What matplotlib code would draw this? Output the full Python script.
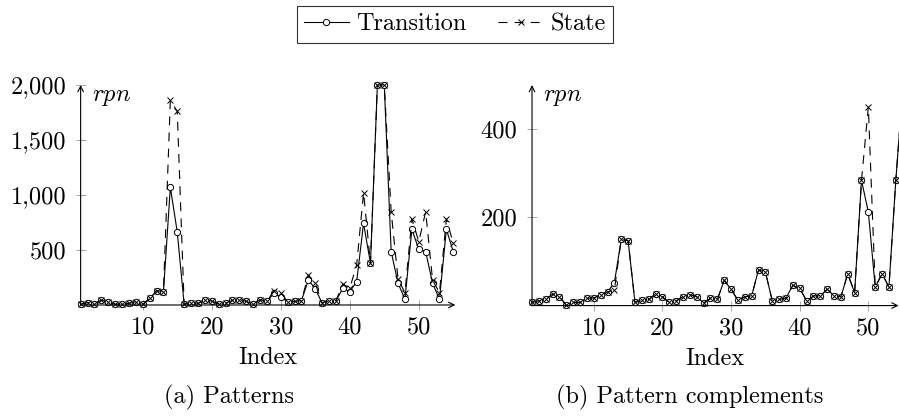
import matplotlib
matplotlib.use("Agg")
import matplotlib.pyplot as plt

# =============================================================================
# Data
# =============================================================================

INDEX = list(range(1, 56))

# (a) Patterns
PAT_TRANSITION = [6, 21, 9, 45, 27, 6, 9, 15, 30, 6,
                  60, 130, 121, 1070, 664, 6, 21, 15, 45, 36,
                  10, 17, 42, 48, 33, 9, 48, 33, 106, 70,
                  30, 33, 39, 227, 148, 17, 39, 39, 152, 121,
                  212, 742, 379, 2000, 2000, 485, 197, 52, 688, 506,
                  485, 197, 52, 688, 485]
PAT_STATE = [6, 21, 9, 45, 27, 6, 9, 15, 30, 6,
             60, 130, 121, 1860, 1760, 6, 21, 15, 45, 36,
             10, 17, 42, 48, 33, 9, 48, 33, 130, 112,
             30, 33, 39, 273, 197, 17, 39, 39, 191, 152,
             364, 1021, 379, 2000, 2000, 848, 233, 112, 782, 576,
             848, 227, 112, 782, 561]

# (b) Pattern complements
COMP_TRANSITION = [7, 11, 14, 26, 20, 1, 7, 7, 17, 17,
                   25, 31, 52, 150, 147, 7, 12, 14, 26, 20,
                   7, 11, 20, 25, 20, 6, 17, 14, 57, 37,
                   12, 20, 22, 81, 76, 11, 14, 17, 46, 39,
                   11, 22, 22, 37, 22, 20, 72, 29, 284, 212,
                   42, 72, 42, 284, 490]
COMP_STATE = [7, 11, 14, 26, 20, 1, 7, 7, 17, 17,
              25, 31, 36, 150, 147, 7, 12, 14, 26, 20,
              7, 11, 20, 25, 20, 6, 17, 14, 57, 37,
              12, 20, 22, 81, 76, 11, 14, 17, 46, 39,
              11, 22, 22, 37, 22, 20, 72, 29, 284, 450,
              42, 72, 42, 284, 490]

X_TICKS = [10, 20, 30, 40, 50]
PAT_Y_TICKS = [500, 1000, 1500, 2000]
PAT_Y_LABELS = ["500", "1,000", "1,500", "2,000"]
COMP_Y_TICKS = [200, 400]
COMP_Y_LABELS = ["200", "400"]

# =============================================================================
# Style
# =============================================================================

plt.rcParams["font.family"] = "cmr10"
plt.rcParams["mathtext.fontset"] = "cm"
plt.rcParams["axes.formatter.use_mathtext"] = True
FS = 17.5


def draw_panel(ax, trans, state, xmax, ymax, yticks, ylabels):
    ax.plot(INDEX, trans, "-", color="black", lw=0.8, marker="o", ms=4.5,
            mfc="white", mec="black", mew=0.7, clip_on=False, label="Transition")
    ax.plot(INDEX, state, color="black", lw=0.8, ls=(0, (8, 6.5)), marker="x",
            ms=4.5, mew=0.7, clip_on=False, label="State")

    ax.set_xlim(1, xmax)
    ax.set_ylim(0, ymax)
    for s in ax.spines.values():
        s.set_visible(False)

    # axis lines with arrow heads
    ax.annotate("", xy=(1, 0), xytext=(0, 0), xycoords="axes fraction",
                arrowprops=dict(arrowstyle="->", lw=0.8, color="black",
                                shrinkA=0, shrinkB=0))
    ax.annotate("", xy=(0, 1), xytext=(0, 0), xycoords="axes fraction",
                arrowprops=dict(arrowstyle="->", lw=0.8, color="black",
                                shrinkA=0, shrinkB=0))

    ax.set_xticks(X_TICKS)
    ax.set_xticklabels([str(t) for t in X_TICKS])
    ax.set_yticks(yticks)
    ax.set_yticklabels(ylabels)
    ax.tick_params(direction="inout", length=7, width=0.6, color="0.6",
                   labelsize=FS, pad=5)
    ax.tick_params(axis="y", pad=7)

    ax.set_xlabel("Index", fontsize=FS, labelpad=6)
    ax.text(0.03, 0.927, "$rpn$", transform=ax.transAxes, fontsize=FS,
            ha="left", va="baseline")


fig = plt.figure(figsize=(8.99, 4.17), dpi=100)

ax1 = fig.add_axes([0.0897, 0.2686, 0.4168, 0.5276])
draw_panel(ax1, PAT_TRANSITION, PAT_STATE, 55.3, 2000, PAT_Y_TICKS, PAT_Y_LABELS)

ax2 = fig.add_axes([0.5918, 0.2672, 0.4077, 0.5290])
draw_panel(ax2, COMP_TRANSITION, COMP_STATE, 54.4, 500, COMP_Y_TICKS, COMP_Y_LABELS)

fig.text(0.255, 0.048, "(a) Patterns", fontsize=FS, ha="center", va="center")
fig.text(0.767, 0.048, "(b) Pattern complements", fontsize=FS,
         ha="center", va="center")

handles, labels = ax1.get_legend_handles_labels()
leg = fig.legend(handles, labels, loc="center", bbox_to_anchor=(0.506, 0.942),
                 ncol=2, fontsize=FS, frameon=True, fancybox=False,
                 handlelength=1.85, handletextpad=0.3, columnspacing=1.3,
                 borderpad=0.3)
leg.get_frame().set_edgecolor("black")
leg.get_frame().set_linewidth(0.8)

fig.savefig("out.png", dpi=100)
